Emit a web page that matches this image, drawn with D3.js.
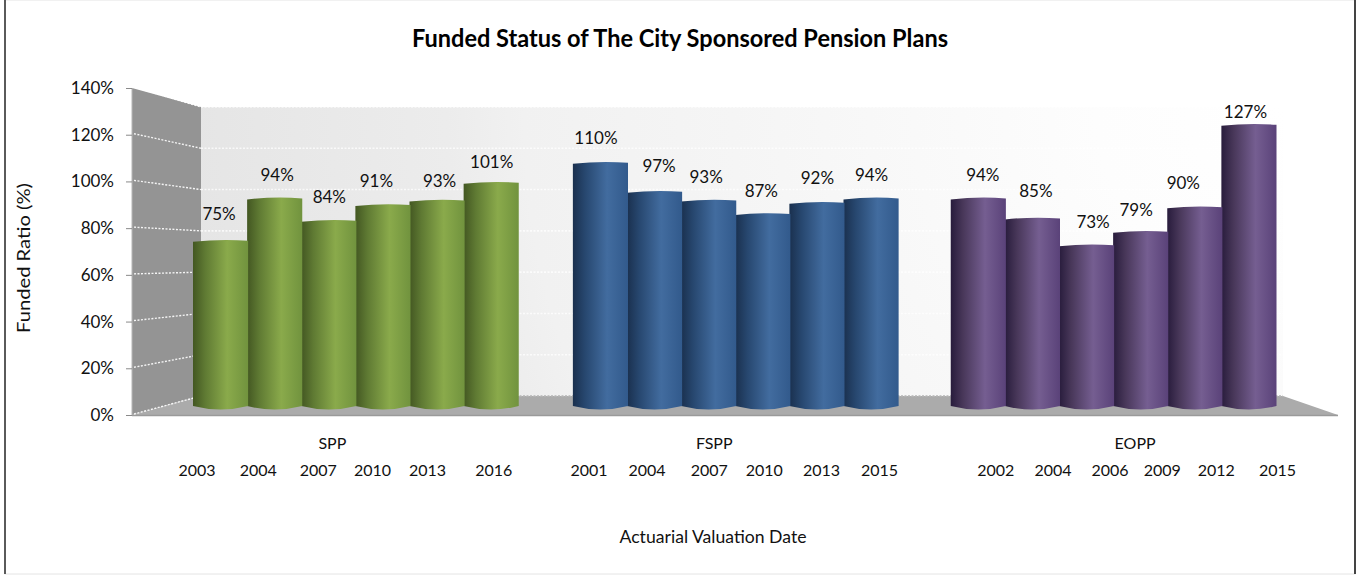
<!DOCTYPE html>
<html>
<head>
<meta charset="utf-8">
<script src="https://cdn.jsdelivr.net/npm/d3@7/dist/d3.min.js"></script>
<style>
html,body{margin:0;padding:0;background:#fff;overflow:hidden}
svg{display:block}
text{font-family:Lato,"Open Sans",sans-serif;fill:#111}
</style>
</head>
<body>
<svg id="c" width="1361" height="575"></svg>
<script>
const title = "Funded Status of The City Sponsored Pension Plans";
const yAxisTitle = "Funded Ratio (%)";
const xAxisTitle = "Actuarial Valuation Date";
const plans = ["SPP", "FSPP", "EOPP"];
const sppYears = ["2003","2004","2007","2010","2013","2016"];
const sppValues = [75, 94, 84, 91, 93, 101];
const fsppYears = ["2001","2004","2007","2010","2013","2015"];
const fsppValues = [110, 97, 93, 87, 92, 94];
const eoppYears = ["2002","2004","2006","2009","2012","2015"];
const eoppValues = [94, 85, 73, 79, 90, 127];
const yTicks = [0, 20, 40, 60, 80, 100, 120, 140];

// Layout nudges that reproduce the hand-placed labels of the source chart
const groupShift = [0, 1, 0];
const yearNudge = [-23,-16,-10,-10,-9,3, -11,-7,1,2,5,9, 18,21,24,22,22,29];
const labelNudgeX = [-1,3,1,-6,3,1, -4,5,-2,-1,1,1, 5,4,7,-4,-11,-3];
const labelNudgeY = [-1,3,2,2,6,5, 1,0,2,3,1,3, 3,-1,3,4,2,13];

const svg = d3.select("#c");
const defs = svg.append("defs");

const rows = [[sppYears,sppValues,0],[fsppYears,fsppValues,1],[eoppYears,eoppValues,2]]
  .flatMap(([ys,vs,g]) => ys.map((y,i) => ({plan:plans[g], g, i, year:y, value:vs[i]})));
rows.forEach((d,k)=>{ d.k = k; d.slot = d.g*7 + d.i; });

// Scales: front edge of chart, back wall, and the plane the cylinders stand in
const yFront = d3.scaleLinear().domain([0,140]).range([415,88]);
const yBack  = d3.scaleLinear().domain([0,140]).range([396,107]);
const yBar   = d3.scaleLinear().domain([0,140]).range([408,95.8]);
const x = d3.scaleBand().domain(d3.range(20)).range([193,1275.5]).padding(0);
const barX = d => x(d.slot) + groupShift[d.g];
const wallL = 201, wallR = 1283, frontL = 132, frontR = 1338;

// Frame
svg.append("rect").attr("x",5).attr("y",0).attr("width",1350).attr("height",574)
  .attr("fill","#fff").attr("stroke","#e4e4e4").attr("stroke-width",1);
svg.append("line").attr("x1",5).attr("x2",5).attr("y1",0).attr("y2",574).attr("stroke","#5a5a5a").attr("stroke-width",2);
svg.append("line").attr("x1",1355).attr("x2",1355).attr("y1",0).attr("y2",574).attr("stroke","#444").attr("stroke-width",2);

// Back wall
const wg = defs.append("radialGradient").attr("id","wall")
  .attr("gradientUnits","userSpaceOnUse").attr("cx",wallR).attr("cy",107).attr("r",1100);
[[0,"#ffffff"],[0.17,"#fdfdfd"],[0.5,"#f5f5f5"],[0.69,"#f1f1f1"],[0.76,"#ececec"],[1,"#e5e5e5"]]
  .forEach(([o,c])=>wg.append("stop").attr("offset",o).attr("stop-color",c));
const line = d3.line();
svg.append("path").attr("fill","url(#wall)")
  .attr("d", line([[wallL,yBack(140)],[wallR,yBack(140)],[wallR,yBack(0)],[wallL,yBack(0)]])+"Z");
// Side wall
svg.append("path").attr("fill","#949494")
  .attr("d", line([[frontL,yFront(140)],[wallL,yBack(140)],[wallL,yBack(0)],[frontL,yFront(0)]])+"Z");
// Floor
svg.append("path").attr("fill","#ababab")
  .attr("d", line([[frontL,yFront(0)],[wallL,yBack(0)],[wallR,yBack(0)],[frontR,yFront(0)]])+"Z");
svg.append("line").attr("x1",frontL).attr("x2",frontR).attr("y1",yFront(0)+0.5).attr("y2",yFront(0)+0.5)
  .attr("stroke","#9a9a9a").attr("stroke-width",1.5);
svg.append("line").attr("x1",frontL).attr("x2",frontL).attr("y1",yFront(140)).attr("y2",yFront(0))
  .attr("stroke","#b5b5b5").attr("stroke-width",1);

// Gridlines
const grid = svg.append("g").attr("fill","none").attr("stroke","#fff").attr("stroke-dasharray","2 1.5");
yTicks.forEach(v=>{
  grid.append("path").attr("stroke-width",1.4).attr("stroke-opacity",0.9)
    .attr("d", line([[frontL+2,yFront(v)-1],[wallL,yBack(v)]]));
  grid.append("path").attr("stroke-width",1.6).attr("stroke-opacity",0.75)
    .attr("d", line([[wallL,yBack(v)],[wallR,yBack(v)]]));
});
svg.append("line").attr("x1",wallL).attr("x2",wallR).attr("y1",yBack(0)).attr("y2",yBack(0))
  .attr("stroke","#8e8e8e").attr("stroke-dasharray","2 1.5");

// Y axis
const yAxis = d3.axisLeft(yFront).tickValues(yTicks).tickFormat(d=>d+"%").tickSize(6).tickPadding(12);
const ax = svg.append("g").attr("transform",`translate(${frontL},0)`).call(yAxis);
ax.select(".domain").remove();
ax.selectAll(".tick line").attr("stroke","#8a8a8a");
ax.selectAll(".tick text").attr("font-size",17).style("fill","#111");

// Bars
const palette = [
  ["#435722","#5f7a33","#8aaa4b","#71933e"],
  ["#1a304e","#27476f","#426c9f","#325a8c"],
  ["#281c3c","#483759","#755e91","#5a4279"]
];
palette.forEach((p,g)=>{
  const lg = defs.append("linearGradient").attr("id","bar"+g);
  [[0,p[0]],[0.22,p[1]],[0.62,p[2]],[1,p[3]]].forEach(([o,c])=>
    lg.append("stop").attr("offset",o).attr("stop-color",c));
});
const bw = x.bandwidth()+1;
const barPath = d => {
  const x0 = barX(d), x1 = x0+bw, t = yBar(d.value), b = yBar(0)+1;
  const p = d3.path();
  p.moveTo(x0,t+1);
  p.quadraticCurveTo((x0+x1)/2,t-2,x1,t);
  p.lineTo(x1,b-3);
  p.quadraticCurveTo((x0+x1)/2,b+4,x0,b-3);
  p.closePath();
  return p.toString();
};
svg.append("g").selectAll("path").data(rows.slice().reverse()).join("path")
  .attr("d",barPath).attr("fill",d=>`url(#bar${d.g})`);

// Value labels
svg.append("g").selectAll("text").data(rows).join("text")
  .attr("x",d=>barX(d)+x.bandwidth()/2+labelNudgeX[d.k])
  .attr("y",d=>yBar(d.value)-20+labelNudgeY[d.k])
  .attr("text-anchor","middle").attr("font-size",17)
  .text(d=>d.value+"%");

// Year labels
svg.append("g").selectAll("text").data(rows).join("text")
  .attr("x",d=>barX(d)+x.bandwidth()/2+yearNudge[d.k])
  .attr("y",476).attr("text-anchor","middle").attr("font-size",16)
  .text(d=>d.year);

// Plan labels
const planRows = d3.rollups(rows,v=>d3.mean(v,d=>x(d.slot)+x.bandwidth()/2),d=>d.plan);
const planNudge = {SPP:-23, FSPP:-20, EOPP:22};
svg.append("g").selectAll("text").data(planRows).join("text")
  .attr("x",d=>d[1]+planNudge[d[0]]).attr("y",449).attr("text-anchor","middle").attr("font-size",16)
  .text(d=>d[0]);

// Titles
svg.append("text").attr("x",680).attr("y",47).attr("text-anchor","middle")
  .attr("font-size",24).attr("font-weight",700)
  .attr("textLength",536).attr("lengthAdjust","spacingAndGlyphs").style("fill","#000").text(title);
svg.append("text").attr("x",713).attr("y",543).attr("text-anchor","middle").attr("font-size",17)
  .attr("textLength",187).attr("lengthAdjust","spacingAndGlyphs").text(xAxisTitle);
svg.append("text").attr("transform","translate(30,258) rotate(-90)").attr("text-anchor","middle").attr("font-size",17)
  .attr("textLength",150).attr("lengthAdjust","spacingAndGlyphs").text(yAxisTitle);
</script>
</body>
</html>
